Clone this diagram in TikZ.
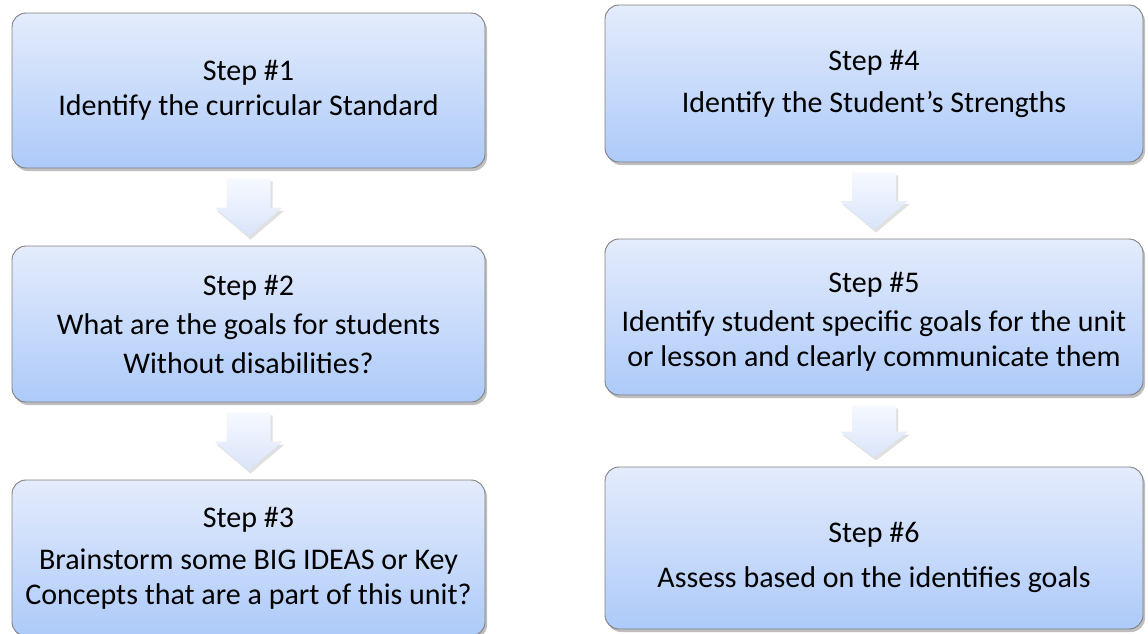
\documentclass[tikz,border=0pt]{standalone}
\usepackage{fontspec}
\setmainfont{Carlito}
\usepackage{xcolor}
\usepackage{tikz}
\usetikzlibrary{
    calc,
    shadows
}
\definecolor{boxtop}{HTML}{E4ECFC}
\definecolor{boxbottom}{HTML}{ADCAF9}
\definecolor{boxborder}{HTML}{7F7F7F}
\definecolor{arrowtop}{HTML}{F6F9FF}
\definecolor{arrowbottom}{HTML}{D9E4FA}
\tikzset
{
  stepbox/.style={draw=boxborder,line width=0.9pt,rounded corners=14pt,top color=boxtop,bottom color=boxbottom,
    drop shadow={shadow xshift=2pt,shadow yshift=-3pt,opacity=0.25,fill=black},
    align=center,font=\fontsize{30}{35}\selectfont,inner sep=0pt},
  blockarrow/.style={draw=none,top color=arrowtop,bottom color=arrowbottom,
    drop shadow={shadow xshift=2pt,shadow yshift=-3pt,opacity=0.12,fill=black}}
}
% block arrow from the bottom of one box to the top of the next
\newcommand{\downarrowbetween}[2]{%
  \coordinate (at) at ($(#1.south)+(0,10)$);
  \coordinate (ab) at ($(#2.north)+(0,-9)$);
  \coordinate (am) at ($(at)!0.5!(ab)$);
  \path[blockarrow] ($(at)+(-22,0)$) -- ($(at)+(22,0)$) -- ($(am)+(22,0)$) -- ($(am)+(34,0)$)
    -- (ab) -- ($(am)+(-34,0)$) -- ($(am)+(-22,0)$) -- cycle;
}

\begin{document}
\begin{tikzpicture}[x=1pt,y=-1pt]

    % Fix the page size
    \useasboundingbox (0,0) rectangle (1148,633);

    % Left column
    \node[stepbox, minimum width=473pt, minimum height=155pt] (box1) at (248.5,90.5)
        {Step \#1\\[0pt] Identify the curricular Standard};
    \node[stepbox, minimum width=473pt, minimum height=156pt] (box2) at (248.5,324)
        {Step \#2\\[4pt] What are the goals for students\\[4pt] Without disabilities?};
    \node[stepbox, minimum width=473pt, minimum height=156pt] (box3) at (248.5,558)
        {Step \#3\\[7pt] Brainstorm some BIG IDEAS or Key\\ Concepts that are a part of this unit?};

    % Right column
    \node[stepbox, minimum width=538pt, minimum height=157pt] (box4) at (874,83.5)
        {Step \#4\\[7pt] Identify the Student’s Strengths};
    \node[stepbox, minimum width=538pt, minimum height=156pt] (box5) at (874,317)
        {\rule{0pt}{30pt}Step \#5\\[4pt] Identify student specific goals for the unit\\ or lesson and clearly communicate them};
    \node[stepbox, minimum width=538pt, minimum height=162pt] (box6) at (874,548)
        {\rule{0pt}{39pt}Step \#6\\[10pt] Assess based on the identifies goals};

    % Arrows between the steps
    \downarrowbetween{box1}{box2}
    \downarrowbetween{box2}{box3}
    \downarrowbetween{box4}{box5}
    \downarrowbetween{box5}{box6}

\end{tikzpicture}
\end{document}
